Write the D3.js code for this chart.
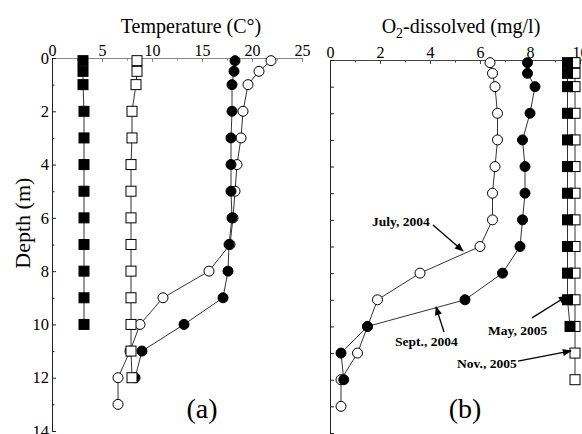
<!DOCTYPE html>
<html>
<head>
<meta charset="utf-8">
<script src="https://cdn.jsdelivr.net/npm/d3@7"></script>
<style>
  body { margin: 0; background: #fff; }
  svg { display: block; }
  text { font-family: "Liberation Serif", "Times New Roman", serif; fill: #000; }
</style>
</head>
<body>
<svg id="chart" width="582" height="434"></svg>
<script>
// ---- data: depth profiles (m) of temperature (°C) and dissolved O2 (mg/l)
const tempTicks = [0, 5, 10, 15, 20, 25];
const tempMinorTicks = [2.5, 7.5, 12.5, 17.5, 22.5];
const o2Ticks = [0, 2, 4, 6, 8, 10];
const o2MinorTicks = [1, 3, 5, 7, 9];
const depthTicks = [0, 2, 4, 6, 8, 10, 12, 14];
const depthMinorTicks = [1, 3, 5, 7, 9, 11, 13];
const seriesNames = ["July, 2004", "Sept., 2004", "Nov., 2005", "May, 2005"];

const julyDepth = [0.1, 0.5, 1, 2, 3, 4, 5, 6, 7, 8, 9, 10, 11, 12, 13];
const julyTemp  = [21.9, 20.7, 19.6, 19.1, 18.9, 18.5, 18.3, 18.1, 17.8, 15.7, 11.1, 8.8, 7.8, 6.6, 6.6];
const julyO2    = [6.4, 6.5, 6.6, 6.7, 6.7, 6.6, 6.5, 6.5, 6.0, 3.6, 1.9, 1.5, 1.1, 0.44, 0.44];

const septDepth = [0.1, 0.5, 1, 2, 3, 4, 5, 6, 7, 8, 9, 10, 11, 12];
const septTemp  = [18.3, 18.2, 18.0, 18.0, 17.9, 17.9, 17.9, 18.0, 17.7, 17.6, 17.1, 13.2, 9.0, 8.3];
const septO2    = [7.9, 7.9, 8.2, 8.0, 7.7, 7.8, 7.8, 7.7, 7.6, 6.9, 5.4, 1.5, 0.44, 0.55];

const novDepth  = [0.1, 0.5, 1, 2, 3, 4, 5, 6, 7, 8, 9, 10, 11, 12];
const novTemp   = [8.5, 8.5, 8.4, 8.0, 8.0, 7.9, 7.9, 7.9, 7.9, 7.9, 7.9, 7.9, 7.9, 8.0];
const novO2     = [9.8, 9.8, 9.8, 9.8, 9.8, 9.8, 9.8, 9.8, 9.8, 9.8, 9.8, 9.8, 9.8, 9.8];

const mayDepth  = [0.1, 0.5, 1, 2, 3, 4, 5, 6, 7, 8, 9, 10];
const mayTemp   = [3.1, 3.1, 3.1, 3.2, 3.2, 3.2, 3.2, 3.2, 3.2, 3.2, 3.2, 3.2];
const mayO2     = [9.5, 9.5, 9.5, 9.5, 9.5, 9.5, 9.5, 9.5, 9.5, 9.5, 9.5, 9.6];

// series in drawing order (later ones sit on top)
const series = [
  { name: seriesNames[0], depth: julyDepth, temp: julyTemp, o2: julyO2, shape: "circle", fill: "#fff" },
  { name: seriesNames[1], depth: septDepth, temp: septTemp, o2: septO2, shape: "circle", fill: "#000" },
  { name: seriesNames[2], depth: novDepth,  temp: novTemp,  o2: novO2,  shape: "square", fill: "#fff" },
  { name: seriesNames[3], depth: mayDepth,  temp: mayTemp,  o2: mayO2,  shape: "square", fill: "#000" }
];

const svg = d3.select("#chart");

// arrowhead for the annotation arrows
svg.append("defs").append("marker")
  .attr("id", "arrow").attr("viewBox", "0 0 10 10")
  .attr("refX", 9).attr("refY", 5)
  .attr("markerWidth", 11).attr("markerHeight", 9)
  .attr("markerUnits", "userSpaceOnUse")
  .attr("orient", "auto")
  .append("path").attr("d", "M0,1 L10,5 L0,9 Z").attr("fill", "#000");

function drawPanel(cfg) {
  const { x, y, key, majorX, minorX, topColor, yLabels } = cfg;
  const g = svg.append("g");

  // top axis (ticks point into the plot)
  const topAxis = g.append("g").attr("transform", `translate(0,${y(0)})`)
    .call(d3.axisTop(x).tickValues(majorX).tickSizeInner(-4).tickSizeOuter(0).tickPadding(2).tickFormat(d3.format("d")));
  g.append("g").attr("transform", `translate(0,${y(0)})`)
    .call(d3.axisTop(x).tickValues(minorX).tickSizeInner(-2.5).tickSizeOuter(0).tickFormat(""))
    .call(a => a.select(".domain").remove());
  g.selectAll("g > g .tick line").attr("stroke", topColor);
  topAxis.select(".domain").attr("stroke", topColor);
  topAxis.selectAll("text").attr("font-size", 16);

  // left depth axis
  const left = g.append("g").attr("transform", `translate(${x.range()[0]},0)`)
    .call(d3.axisLeft(y).tickValues(yLabels ? depthTicks : depthTicks.concat(depthMinorTicks))
      .tickSizeInner(-4).tickSizeOuter(0).tickPadding(3)
      .tickFormat(yLabels ? d3.format("d") : ""));
  left.selectAll("text").attr("font-size", 16.5);
  left.select(".domain").attr("stroke", "#222");
  left.selectAll(".tick line").attr("stroke", "#222");
  if (yLabels) {
    g.append("g").attr("transform", `translate(${x.range()[0]},0)`)
      .call(d3.axisLeft(y).tickValues(depthMinorTicks).tickSizeInner(-2.5).tickSizeOuter(0).tickFormat(""))
      .call(a => a.select(".domain").remove())
      .selectAll(".tick line").attr("stroke", "#222");
  }

  // profiles
  const line = d3.line().x(d => x(d.v)).y(d => y(d.d));
  series.forEach(s => {
    const pts = s.depth.map((d, i) => ({ d, v: s[key][i] }));
    g.append("path").datum(pts).attr("d", line)
      .attr("fill", "none").attr("stroke", "#333").attr("stroke-width", 1);
    const m = g.append("g").selectAll(null).data(pts).enter();
    if (s.shape === "circle") {
      m.append("circle").attr("cx", d => x(d.v)).attr("cy", d => y(d.d)).attr("r", 5)
        .attr("fill", s.fill).attr("stroke", "#000").attr("stroke-width", 1);
    } else {
      m.append("rect").attr("x", d => x(d.v) - 5).attr("y", d => y(d.d) - 5)
        .attr("width", 10).attr("height", 10)
        .attr("fill", s.fill).attr("stroke", "#000").attr("stroke-width", 1);
    }
  });
  return g;
}

// (a) temperature
const xT = d3.scaleLinear().domain([0, 25]).range([52, 302]);
const yT = d3.scaleLinear().domain([0, 14]).range([58, 431]);
drawPanel({ x: xT, y: yT, key: "temp", majorX: tempTicks, minorX: tempMinorTicks, topColor: "#888", yLabels: true });

// (b) dissolved oxygen
const xO = d3.scaleLinear().domain([0, 10]).range([330, 580]);
const yO = d3.scaleLinear().domain([0, 14]).range([60, 433]);
drawPanel({ x: xO, y: yO, key: "o2", majorX: o2Ticks, minorX: o2MinorTicks, topColor: "#444", yLabels: false });
// the top axis runs on to the page edge
svg.append("line").attr("x1", 580).attr("x2", 582).attr("y1", yO(0)).attr("y2", yO(0)).attr("stroke", "#444");

// titles
svg.append("text").attr("x", 191).attr("y", 33).attr("text-anchor", "middle").attr("font-size", 20)
  .text("Temperature (C°)");
const o2Title = svg.append("text").attr("x", 461).attr("y", 33).attr("text-anchor", "middle").attr("font-size", 20);
o2Title.append("tspan").text("O");
o2Title.append("tspan").attr("font-size", 14).attr("dy", 5).text("2");
o2Title.append("tspan").attr("dy", -5).text("-dissolved (mg/l)");

svg.append("text").attr("transform", `translate(30,${yT(6.2)}) rotate(-90)`)
  .attr("text-anchor", "middle").attr("font-size", 22).text("Depth (m)");

svg.append("text").attr("x", xT(15)).attr("y", 418).attr("text-anchor", "middle").attr("font-size", 28).text("(a)");
svg.append("text").attr("x", xO(5.4)).attr("y", 418).attr("text-anchor", "middle").attr("font-size", 28).text("(b)");

// campaign labels with arrows, placed in O2/depth units
const notes = [
  { text: seriesNames[0], tx: 1.68, ty: 6.23, x1: 4.12, y1: 6.19, x2: 5.32, y2: 7.17 },
  { text: seriesNames[1], tx: 2.6,  ty: 10.74, x1: 4.56, y1: 10.21, x2: 4.24, y2: 9.27 },
  { text: seriesNames[3], tx: 6.32, ty: 10.32, x1: 8.08, y1: 9.68, x2: 9.48, y2: 8.86 },
  { text: seriesNames[2], tx: 5.08, ty: 11.56, x1: 7.52, y1: 11.3, x2: 9.64, y2: 10.92 }
];
notes.forEach(n => {
  svg.append("text").attr("x", xO(n.tx)).attr("y", yO(n.ty))
    .attr("font-size", 13.5).attr("font-weight", "bold").text(n.text);
  svg.append("line").attr("x1", xO(n.x1)).attr("y1", yO(n.y1)).attr("x2", xO(n.x2)).attr("y2", yO(n.y2))
    .attr("stroke", "#000").attr("stroke-width", 1.3).attr("marker-end", "url(#arrow)");
});
</script>
</body>
</html>
